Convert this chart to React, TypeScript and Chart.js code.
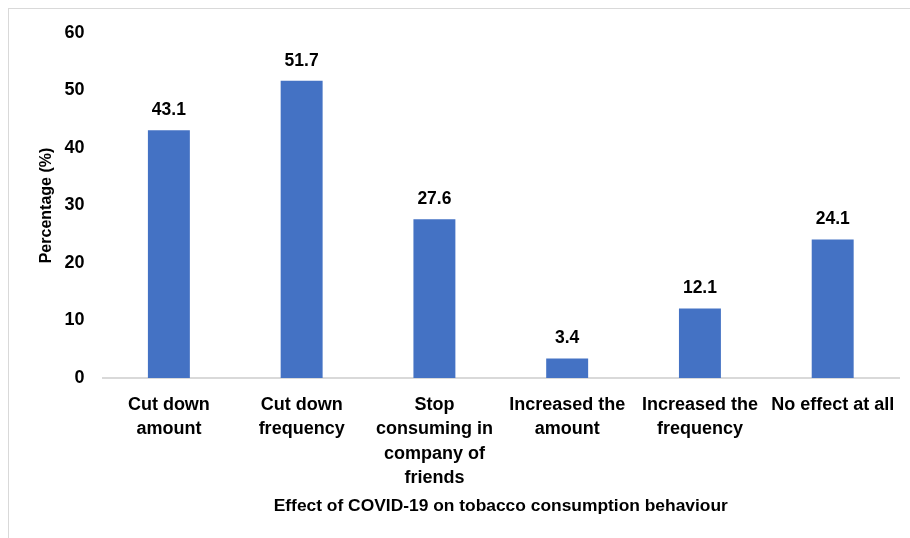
import React, { useEffect, useRef } from "react";
import { Chart, registerables } from "chart.js";

Chart.register(...registerables);

const categories: (string | string[])[] = [
  ["Cut down", "amount"],
  ["Cut down", "frequency"],
  ["Stop", "consuming in", "company of", "friends"],
  ["Increased the", "amount"],
  ["Increased the", "frequency"],
  "No effect at all",
];
const percentages = [43.1, 51.7, 27.6, 3.4, 12.1, 24.1];
const yTicks = [0, 10, 20, 30, 40, 50, 60];
const xTitle = "Effect of COVID-19 on tobacco consumption behaviour";
const yTitle = "Percentage (%)";

const FONT = "'Liberation Sans', Arial, sans-serif";

const valueLabels = {
  id: "valueLabels",
  afterDatasetsDraw(chart: any) {
    const ctx = chart.ctx;
    const meta = chart.getDatasetMeta(0);
    const data = chart.data.datasets[0].data as number[];
    ctx.save();
    ctx.font = `bold 17.5px ${FONT}`;
    ctx.fillStyle = "#000000";
    ctx.textAlign = "center";
    ctx.textBaseline = "alphabetic";
    meta.data.forEach((bar: any, i: number) => {
      ctx.fillText(data[i].toFixed(1), bar.x, bar.y - 15);
    });
    ctx.restore();
  },
};

export default function App() {
  const ref = useRef<HTMLCanvasElement>(null);
  useEffect(() => {
    if (!ref.current) return;
    const chart = new Chart(ref.current, {
      type: "bar",
      data: {
        labels: categories,
        datasets: [
          {
            data: percentages,
            backgroundColor: "#4472C4",
            borderWidth: 0,
            categoryPercentage: 1,
            barPercentage: 0.316,
          },
        ],
      },
      options: {
        animation: false,
        responsive: false,
        maintainAspectRatio: false,
        layout: { padding: { top: 24, right: 9.5, bottom: 0, left: 0 } },
        plugins: {
          legend: { display: false },
          tooltip: { enabled: false },
        },
        scales: {
          x: {
            grid: { display: false, drawTicks: false },
            border: { display: true, color: "#d9d9d9", width: 2 },
            ticks: {
              color: "#000000",
              padding: 15,
              maxRotation: 0,
              autoSkip: false,
              font: { family: FONT, size: 18, weight: "bold", lineHeight: 1.35 },
            },
            title: {
              display: true,
              text: xTitle,
              color: "#000000",
              font: { family: FONT, size: 17.4, weight: "bold", lineHeight: 1.2 },
              padding: { top: 0, bottom: 21 },
            },
            afterFit(scale: any) {
              scale.height = 160;
              scale.paddingTop = 0;
              scale.paddingBottom = 0;
            },
          },
          y: {
            min: 0,
            max: 60,
            afterBuildTicks(scale: any) {
              scale.ticks = yTicks.map((v) => ({ value: v }));
            },
            grid: { display: false, drawTicks: false },
            border: { display: false },
            ticks: {
              color: "#000000",
              padding: 18,
              font: { family: FONT, size: 18, weight: "bold" },
            },
            title: {
              display: true,
              text: yTitle,
              color: "#000000",
              font: { family: FONT, size: 16, weight: "bold", lineHeight: 1.2 },
              padding: { top: 28, bottom: 0 },
            },
            afterFit(scale: any) {
              scale.width = 93.5;
              scale.paddingTop = 0;
              scale.paddingBottom = 0;
            },
          },
        },
      },
      plugins: [valueLabels],
    });
    return () => chart.destroy();
  }, []);

  return (
    <div
      style={{
        position: "fixed",
        left: 8,
        top: 8,
        width: 910,
        height: 540,
        borderTop: "1px solid #d9d9d9",
        borderLeft: "1px solid #d9d9d9",
        boxSizing: "border-box",
        background: "#ffffff",
      }}
    >
      <canvas ref={ref} width={901} height={529} style={{ display: "block" }} />
    </div>
  );
}
